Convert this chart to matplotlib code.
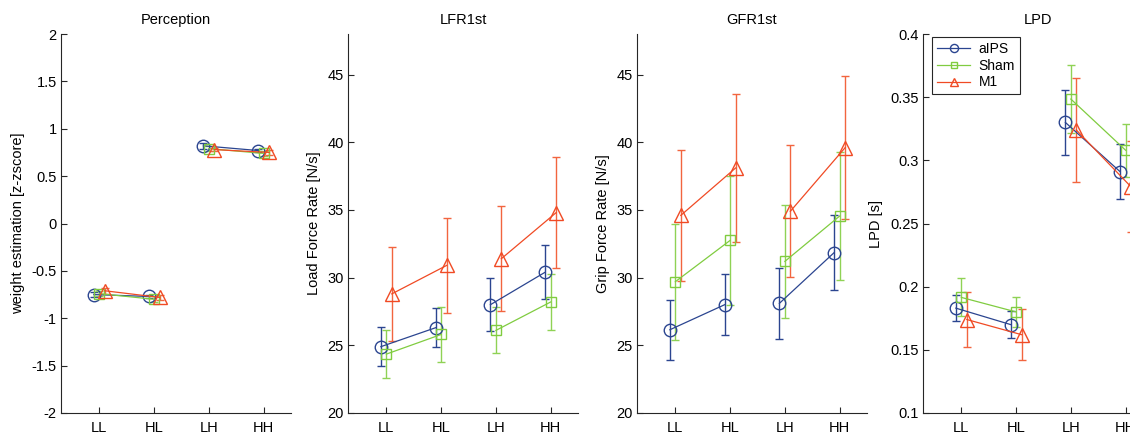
import matplotlib
matplotlib.use("Agg")
import matplotlib.pyplot as plt
import numpy as np

plt.rcParams['font.family'] = ['Liberation Sans', 'DejaVu Sans']
plt.rcParams['axes.unicode_minus'] = False

conditions = ["LL", "HL", "LH", "HH"]
groups = ["aIPS", "Sham", "M1"]

titles = ["Perception", "LFR1st", "GFR1st", "LPD"]
ylabels = ["weight estimation [z-zscore]", "Load Force Rate [N/s]",
           "Grip Force Rate [N/s]", "LPD [s]"]

# Perception
perc_aips = [-0.75, -0.77, 0.82, 0.77]
perc_sham = [-0.74, -0.80, 0.79, 0.74]
perc_m1 = [-0.71, -0.78, 0.78, 0.75]
perc_aips_err = [0.03, 0.02, 0.03, 0.02]
perc_sham_err = [0.03, 0.03, 0.03, 0.03]
perc_m1_err = [0.03, 0.03, 0.02, 0.03]

# LFR1st
lfr_aips = [24.9, 26.3, 28.0, 30.4]
lfr_sham = [24.35, 25.8, 26.1, 28.2]
lfr_m1 = [28.8, 30.9, 31.4, 34.8]
lfr_aips_err = [1.45, 1.45, 1.95, 2.0]
lfr_sham_err = [1.75, 2.0, 1.7, 2.05]
lfr_m1_err = [3.5, 3.5, 3.9, 4.1]

# GFR1st
gfr_aips = [26.15, 28.0, 28.1, 31.85]
gfr_sham = [29.7, 32.75, 31.2, 34.55]
gfr_m1 = [34.6, 38.1, 34.9, 39.6]
gfr_aips_err = [2.2, 2.27, 2.6, 2.75]
gfr_sham_err = [4.3, 4.75, 4.15, 4.75]
gfr_m1_err = [4.85, 5.45, 4.87, 5.3]

# LPD
lpd_aips = [0.183, 0.170, 0.330, 0.291]
lpd_sham = [0.1915, 0.180, 0.3485, 0.308]
lpd_m1 = [0.174, 0.162, 0.324, 0.279]
lpd_aips_err = [0.0105, 0.011, 0.0255, 0.022]
lpd_sham_err = [0.015, 0.012, 0.027, 0.021]
lpd_m1_err = [0.022, 0.020, 0.041, 0.036]

panels = [
    ([perc_aips, perc_sham, perc_m1], [perc_aips_err, perc_sham_err, perc_m1_err]),
    ([lfr_aips, lfr_sham, lfr_m1], [lfr_aips_err, lfr_sham_err, lfr_m1_err]),
    ([gfr_aips, gfr_sham, gfr_m1], [gfr_aips_err, gfr_sham_err, gfr_m1_err]),
    ([lpd_aips, lpd_sham, lpd_m1], [lpd_aips_err, lpd_sham_err, lpd_m1_err]),
]

ylims = [(-2, 2), (20, 48), (20, 48), (0.1, 0.4)]
yticks = [np.arange(-2, 2.01, 0.5), np.arange(20, 46, 5), np.arange(20, 46, 5),
          np.arange(0.1, 0.401, 0.05)]

colors = ["#2b4590", "#80cc40", "#f04a24"]
ecolors = ["#2b4590", "#8fd255", "#f2653f"]
markers = ["o", "s", "^"]
msizes = [9, 7.5, 9.5]
offsets = [-0.1, 0.0, 0.1]

fig = plt.figure(figsize=(11.3, 4.34), dpi=100)
lefts_px = [61, 348, 637, 923]
W, H = 1130, 434
x = np.arange(1, 5)

for i, (vals, errs) in enumerate(panels):
    ax = fig.add_axes([lefts_px[i] / W, 21 / H, 230 / W, 379 / H])
    for g in range(3):
        xs = x + offsets[g]
        v = np.array(vals[g])
        e = np.array(errs[g])
        ax.errorbar(xs, v, yerr=e, fmt='none', ecolor=ecolors[g],
                    elinewidth=1.0, capsize=2.6, capthick=1.0, zorder=2)
        for seg in (slice(0, 2), slice(2, 4)):
            ax.plot(xs[seg], v[seg], color=colors[g], lw=0.9,
                    marker=markers[g], ms=msizes[g], mfc='none',
                    mec=colors[g], mew=1.0, zorder=3,
                    label=groups[g] if (seg.start == 0) else None)
    ax.set_xlim(0.3, 4.5)
    ax.set_ylim(*ylims[i])
    ax.set_xticks(x)
    ax.set_xticklabels(conditions)
    ax.set_yticks(yticks[i])
    ax.set_yticklabels(["%g" % round(t, 3) for t in yticks[i]])
    ax.set_title(titles[i], fontsize=10.5, pad=7)
    ax.set_ylabel(ylabels[i], fontsize=10.5, labelpad=5)
    for s in ("top", "right"):
        ax.spines[s].set_visible(False)
    for s in ("left", "bottom"):
        ax.spines[s].set_color("#262626")
        ax.spines[s].set_linewidth(0.8)
    ax.tick_params(direction='in', length=4, width=0.8, color="#262626",
                   labelsize=10.5)
    ax.tick_params(axis='x', pad=6)
    ax.tick_params(axis='y', pad=3)
    if i == 3:
        leg = ax.legend(loc='upper left', bbox_to_anchor=(0.04, 0.992),
                        borderaxespad=0, fancybox=False, edgecolor='#262626',
                        framealpha=1, fontsize=10, handlelength=2.4,
                        markerscale=0.65, borderpad=0.35,
                        labelspacing=0.2, handletextpad=0.6)
        leg.get_frame().set_linewidth(0.8)

fig.savefig("out.png", dpi=100)
